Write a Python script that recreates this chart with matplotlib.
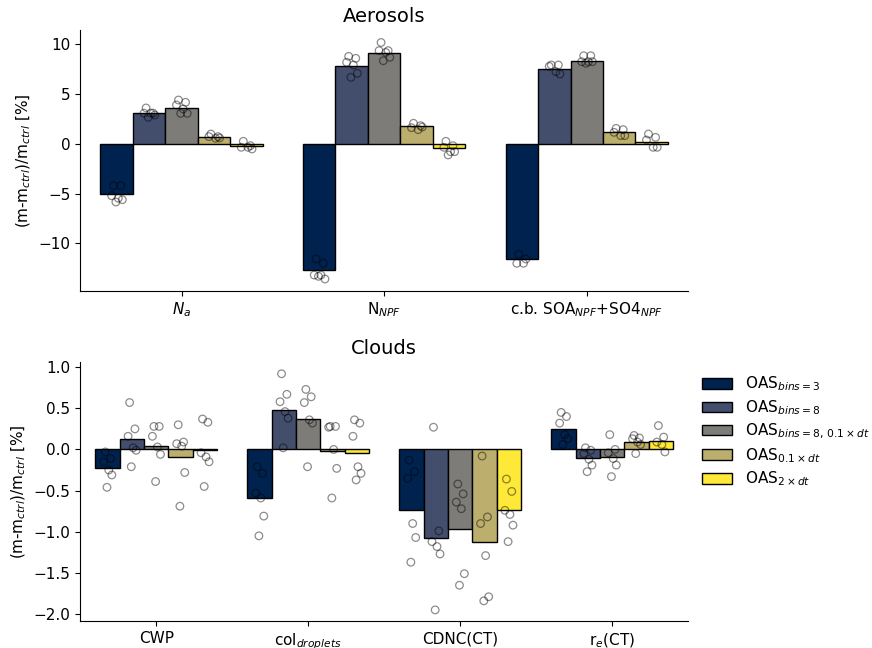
import numpy as np
import matplotlib
matplotlib.use("Agg")
import matplotlib.pyplot as plt
from matplotlib.patches import Patch

# experiments (hue)
runs = ["OAS$_{bins=3}$", "OAS$_{bins=8}$", "OAS$_{bins=8,\\,0.1\\times dt}$",
        "OAS$_{0.1\\times dt}$", "OAS$_{2\\times dt}$"]

# --- aerosols ---
aero_vars = ["$N_a$", "N$_{NPF}$", "c.b. SOA$_{NPF}$+SO4$_{NPF}$"]
na_bars = [-5.0, 3.1, 3.65, 0.7, -0.2]
npf_bars = [-12.66, 7.8, 9.15, 1.78, -0.45]
soa_bars = [-11.56, 7.5, 8.37, 1.2, 0.25]
na_pts = [[-4.19, -4.19, -5.2, -5.45, -5.6, -5.83],
          [3.62, 3.1, 3.1, 3.1, 2.91, 2.68],
          [4.42, 4.19, 3.92, 3.52, 3.08, 3.08],
          [1.0, 0.74, 0.74, 0.57, 0.6],
          [0.27, -0.17, -0.33, -0.33, -0.5]]
npf_pts = [[-11.56, -11.99, -13.17, -13.17, -13.57, -13.3],
           [8.81, 8.61, 8.21, 7.94, 7.1, 6.7],
           [10.2, 9.38, 9.38, 9.2, 8.71, 8.37],
           [2.08, 1.84, 1.64, 1.44, 1.7],
           [0.27, -0.17, -0.33, -0.77, -0.77, -1.1]]
soa_pts = [[-11.09, -11.56, -11.99, -11.99],
           [7.94, 7.94, 7.8, 7.27, 7.03],
           [8.87, 8.87, 8.27, 8.27, 8.27, 8.11],
           [1.57, 1.44, 1.17, 0.84, 0.84],
           [1.0, 0.67, 0.4, -0.33, -0.33]]

# --- clouds ---
cloud_vars = ["CWP", "col$_{droplets}$", "CDNC(CT)", "r$_e$(CT)"]
cwp_bars = [-0.22, 0.13, 0.04, -0.09, -0.01]
col_bars = [-0.59, 0.48, 0.37, -0.02, -0.04]
cdnc_bars = [-0.73, -1.08, -0.97, -1.12, -0.74]
re_bars = [0.25, -0.1, -0.09, 0.09, 0.1]
cwp_pts = [[-0.03, -0.11, -0.15, -0.25, -0.31, -0.46],
           [0.57, 0.25, 0.16, 0.02, -0.01, -0.21],
           [0.28, 0.28, 0.16, 0.03, -0.06, -0.39],
           [0.3, 0.09, 0.07, 0.04, -0.28, -0.69],
           [0.37, 0.33, -0.04, -0.09, -0.15, -0.45]]
col_pts = [[-0.21, -0.29, -0.53, -0.59, -0.81, -1.05],
           [0.92, 0.67, 0.58, 0.46, 0.38, 0.02],
           [0.73, 0.64, 0.57, 0.36, 0.32, -0.21],
           [0.28, 0.28, 0.27, 0.0, -0.23, -0.59],
           [0.36, 0.32, 0.16, -0.21, -0.29, -0.37]]
cdnc_pts = [[-0.13, -0.27, -0.35, -0.9, -1.07, -1.37],
            [0.27, -0.99, -1.12, -1.18, -1.27, -1.95],
            [-0.42, -0.54, -0.64, -0.72, -1.51, -1.65],
            [-0.08, -0.82, -0.9, -1.29, -1.79, -1.84],
            [-0.36, -0.51, -0.74, -0.79, -0.92, -1.12]]
re_pts = [[0.45, 0.4, 0.32, 0.18, 0.13, 0.06],
          [0.02, -0.01, -0.05, -0.12, -0.19, -0.27],
          [0.18, 0.0, -0.04, -0.11, -0.19, -0.33],
          [0.17, 0.14, 0.13, 0.09, 0.06, -0.05],
          [0.29, 0.15, 0.09, 0.06, -0.03]]

colors = [plt.cm.cividis(v) for v in np.linspace(0, 1, 5)]
width = 0.8 / len(runs)
# small fixed horizontal spread of the points inside each bar
jit = [-0.015, 0.02, -0.025, 0.008, 0.028, -0.004]


def draw(ax, names, bars, pts, title):
    for i in range(len(names)):
        for j in range(len(runs)):
            x = i - 0.4 + width * (j + 0.5)
            ax.bar(x, bars[i][j], width=width, color=colors[j],
                   edgecolor="black", linewidth=1, zorder=2)
            xs = [x + jit[k % len(jit)] for k in range(len(pts[i][j]))]
            ax.scatter(xs, pts[i][j], s=30, facecolors="none",
                       edgecolors=(0, 0, 0, 0.45), linewidths=0.9, zorder=3)
    ax.set_xticks(range(len(names)))
    ax.set_xticklabels(names, fontsize=11)
    ax.set_xlim(-0.5, len(names) - 0.5)
    ax.tick_params(axis="y", labelsize=11)
    ax.set_title(title, fontsize=14)
    ax.set_ylabel("(m-m$_{ctrl}$)/m$_{ctrl}$ [%]", fontsize=11)
    ax.spines["top"].set_visible(False)
    ax.spines["right"].set_visible(False)


fig = plt.figure(figsize=(8.72, 6.48), dpi=100)
ax1 = fig.add_axes([0.092, 0.551, 0.697, 0.402])
ax2 = fig.add_axes([0.092, 0.041, 0.697, 0.400])

draw(ax1, aero_vars, [na_bars, npf_bars, soa_bars], [na_pts, npf_pts, soa_pts], "Aerosols")
ax1.set_ylim(-14.77, 11.41)
ax1.set_yticks([-10, -5, 0, 5, 10])

draw(ax2, cloud_vars, [cwp_bars, col_bars, cdnc_bars, re_bars],
     [cwp_pts, col_pts, cdnc_pts, re_pts], "Clouds")
ax2.set_ylim(-2.09, 1.06)
ax2.set_yticks([-2.0, -1.5, -1.0, -0.5, 0.0, 0.5, 1.0])

handles = [Patch(facecolor=colors[j], edgecolor="black", label=runs[j]) for j in range(len(runs))]
ax2.legend(handles=handles, loc="upper left", bbox_to_anchor=(1.0, 1.005),
           frameon=False, fontsize=11, labelspacing=0.32)

fig.savefig("out.png", dpi=100)
